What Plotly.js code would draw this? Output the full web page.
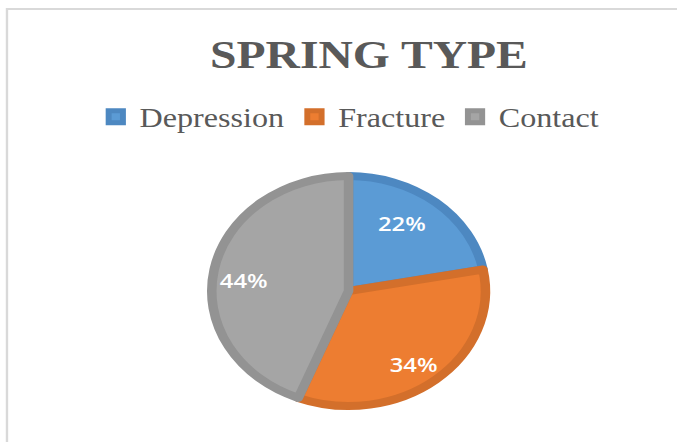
<!DOCTYPE html>
<html>
<head>
<meta charset="utf-8">
<script src="https://cdn.plot.ly/plotly-3.0.1.min.js"></script>
<style>
  html, body { margin: 0; padding: 0; background: #ffffff; overflow: hidden; }
  #wrap { width: 677px; height: 442px; position: relative; overflow: hidden; }
  #chart { width: 569px; height: 442px; transform: scaleX(1.1898); transform-origin: 0 0; }
</style>
</head>
<body>
<div id="wrap"><div id="chart"></div></div>
<script>
const categories = ["Depression", "Fracture", "Contact"];
const shares = [22, 34, 44];
const fillColors = ["#5b9bd5", "#ed7d31", "#a5a5a5"];
const edgeColors = ["#4d88c1", "#d36f2b", "#939393"];
const titleText = "SPRING TYPE";
// label templates (padding only nudges where the percent sits inside its slice)
const labelTemplates = [
  "%{percent:.0%}<br> ",
  " <br> <br>\u00a0\u00a0\u00a0\u00a0\u00a0\u00a0%{percent:.0%}",
  "%{percent:.0%}\u00a0\u00a0\u00a0\u00a0\u00a0\u00a0\u00a0\u00a0\u00a0\u00a0\u00a0\u00a0"
];

const trace = {
  type: "pie",
  labels: categories,
  values: shares,
  sort: false,
  direction: "clockwise",
  rotation: 0,
  hole: 0,
  textinfo: "percent",
  texttemplate: labelTemplates,
  textposition: "inside",
  insidetextorientation: "horizontal",
  textfont: { family: "Open Sans, Liberation Sans, sans-serif", size: 20, color: "#ffffff", weight: 600 },
  marker: { colors: fillColors, line: { color: edgeColors, width: 8 } },
  domain: { x: [0.3128, 0.7170], y: [0.0814, 0.6018] },
  hoverinfo: "none"
};

const layout = {
  width: 569,
  height: 442,
  margin: { l: 0, r: 0, t: 0, b: 0 },
  paper_bgcolor: "#ffffff",
  showlegend: true,
  title: {
    text: "<b>" + titleText + "</b>",
    font: { family: "Liberation Serif, Times New Roman, serif", size: 40, color: "#595959" },
    x: 0.545, xanchor: "center", xref: "paper",
    y: 0.878, yanchor: "middle", yref: "container"
  },
  legend: {
    orientation: "h",
    x: 0.5155, xanchor: "center",
    y: 0.735, yanchor: "middle",
    font: { family: "Liberation Serif, Times New Roman, serif", size: 27, color: "#595959" },
    traceorder: "normal"
  },
  shapes: [
    { type: "line", xref: "paper", yref: "paper", x0: 0.0103, x1: 1.0, y0: 1 - 9/442, y1: 1 - 9/442, line: { color: "#d9d9d9", width: 2 } },
    { type: "line", xref: "paper", yref: "paper", x0: 0.0103, x1: 0.0103, y0: 0, y1: 1 - 8/442, line: { color: "#d9d9d9", width: 2 } }
  ]
};

Plotly.newPlot("chart", [trace], layout, { displayModeBar: false, staticPlot: true });
</script>
</body>
</html>
